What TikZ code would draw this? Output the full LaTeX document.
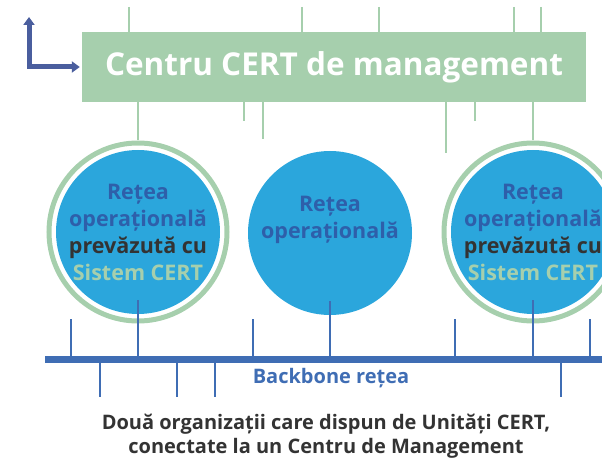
\documentclass[tikz,border=0pt]{standalone}
\usepackage{fontspec}
\setmainfont{Open Sans}
\usetikzlibrary{arrows.meta}
\definecolor{boxgreen}{HTML}{A6CFAD}
\definecolor{netblue}{HTML}{2BA6DC}
\definecolor{textblue}{HTML}{2E5FAA}
\definecolor{linkblue}{HTML}{3F6DB4}
\definecolor{arrowblue}{HTML}{4A5E9E}
\definecolor{darktext}{HTML}{333333}
\tikzstyle{every node}=[font=\bfseries]
\tikzstyle{greenstub}=[boxgreen,line width=2.5pt]
\tikzstyle{bluestub}=[linkblue,line width=2.5pt]
\tikzstyle{netcircle}=[circle,fill=netblue,minimum size=164pt,inner sep=0pt]
\tikzstyle{netring}=[circle,draw=boxgreen,line width=5pt,minimum size=178pt,inner sep=0pt]
\tikzstyle{nettext}=[align=center,text=textblue,font=\bfseries\fontsize{21.5}{27}\selectfont]

\begin{document}
\begin{tikzpicture}[x=1pt,y=-1pt]
  \useasboundingbox (0,0) rectangle (602,462);
  \clip (0,0) rectangle (602,462);
  % management centre
  \node[fill=boxgreen,minimum width=504pt,minimum height=70pt,inner sep=0pt,
        text=white,font=\bfseries\fontsize{31.5}{36}\selectfont]
        (mgmt) at (334,67) {Centru CERT de management};
  \coordinate (up) at (29,17);
  \draw[arrowblue,line width=5pt,
        {Triangle[width=11pt,length=8pt]}-{Triangle[width=11pt,length=8pt]}]
        (up) |- ([xshift=-2pt]mgmt.west);
  \foreach \x in {129,302,379,514,541}
    \draw[greenstub] (\x,7) -- (\x,32);
  \foreach \x/\y in {244/121,263/139,446/153,475/121}
    \draw[greenstub] (\x,102) -- (\x,\y);
  % networks
  \node[netring] (ring1) at (138,232) {};
  \node[netcircle] (net1) at (138,232) {};
  \node[nettext] (txt1) at (net1) {Rețea\\operațională\\
    \textcolor{darktext}{prevăzută cu}\\\textcolor{boxgreen}{Sistem CERT}};
  \node[netcircle] (net2) at (330,233) {};
  \node[nettext] (txt2) at ([yshift=13pt]net2.center) {Rețea\\operațională};
  \node[netring] (ring3) at (533,232) {};
  \node[netcircle] (net3) at (533,232) {};
  \node[nettext] (txt3) at (net3) {Rețea\\operațională\\
    \textcolor{darktext}{prevăzută cu}\\\textcolor{boxgreen}{Sistem CERT}};
  \draw[greenstub] (mgmt.south -| ring1.north) -- (ring1.north);
  \draw[greenstub] (mgmt.south -| ring3.north) -- (ring3.north);
  % backbone
  \coordinate (bbl) at (45,359);
  \coordinate (bbr) at (602,359);
  \draw[linkblue,line width=7pt] (bbl) -- (bbr);
  \foreach \n in {net1,net2,net3}
    \draw[bluestub] ([yshift=14pt]\n.south) -- (\n |- bbl);
  \foreach \x in {71,253,455,590}
    \draw[bluestub] (\x,319) -- (\x,359);
  \foreach \x in {100,177,215,561}
    \draw[bluestub] (\x,359) -- (\x,397);
  \node[text=linkblue,font=\bfseries\fontsize{20}{24}\selectfont]
        (bbtext) at (331,378) {Backbone rețea};
  \node[text=darktext,align=center,font=\bfseries\fontsize{20}{24}\selectfont]
        (caption) at (326,436) {Două organizații care dispun de Unități CERT,\\
        conectate la un Centru de Management};
\end{tikzpicture}
\end{document}
